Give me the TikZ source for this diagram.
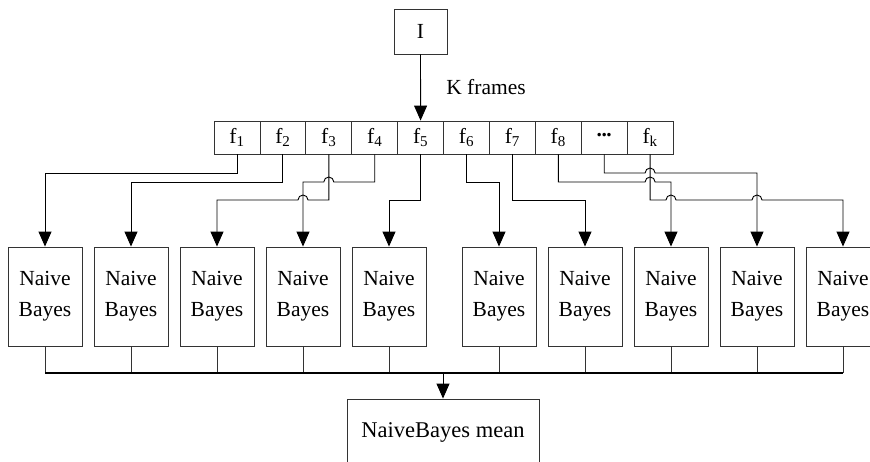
\documentclass[tikz,border=0pt]{standalone}
\usepackage{fontspec}
\setmainfont{Liberation Serif}
\usetikzlibrary{arrows.meta}

\tikzset{
  box/.style={draw=black!80, line width=0.9pt, inner sep=0pt, align=center},
  frame/.style={box, minimum width=45.9pt, minimum height=33pt},
  nbbox/.style={box, minimum width=74pt, minimum height=99pt},
  arr/.style={line width=0.9pt, -{Triangle[width=13pt,length=15pt]}},
  link/.style={draw=black!80, line width=0.9pt}
}
\newcommand{\framedots}{\raisebox{0.22em}{\textbf{.\kern-0.02em.\kern-0.02em.}}}

\begin{document}
\begin{tikzpicture}[x=1pt,y=-1pt,font=\fontsize{21.5}{31}\selectfont]
\useasboundingbox (0,0) rectangle (870,461);
\clip (0,0) rectangle (870,461);

% input and frames
\node [box, minimum width=53pt, minimum height=45pt] (I) at (420.5,31.5) {I};
\foreach \i/\lab in {1/f\textsubscript{1},2/f\textsubscript{2},3/f\textsubscript{3},4/f\textsubscript{4},5/f\textsubscript{5},6/f\textsubscript{6},7/f\textsubscript{7},8/f\textsubscript{8},9/\framedots,10/f\textsubscript{k}}
  \node [frame] (f\i) at ({237+45.9*(\i-1)},137.5) {\lab};
\draw [arr] (I) -- (f5) node [midway,right=22pt] {K frames};

% classifiers
\foreach \i in {1,...,5}
  \node [nbbox] (nb\i) at ({45+86*(\i-1)},296.5) {Naive\\Bayes};
\foreach \i in {6,...,10}
  \node [nbbox] (nb\i) at ({499+86*(\i-6)},296.5) {Naive\\Bayes};
\node [box, minimum width=192pt, minimum height=67pt, font=\fontsize{22.5}{31}\selectfont] (mean) at (443,432.5) {NaiveBayes mean};

% frames to classifiers
\draw [arr] (f1.south) -- (f1.south |- 0,173) -| (nb1.north);
\draw [arr] (f2.south) -- (f2.south |- 0,182) -| (nb2.north);
\draw [arr] (f3.south) -- (f3.south |- 0,200) -- ([xshift=5pt]nb4.north |- 0,200)
  arc [start angle=0,end angle=180,radius=5pt] -| (nb3.north);
\draw [arr] (f4.south) -- (f4.south |- 0,182) -- ([xshift=5pt]f3.south |- 0,182)
  arc [start angle=0,end angle=180,radius=5pt] -| (nb4.north);
\draw [arr] (f5.south) -- (f5.south |- 0,200) -| (nb5.north);
\draw [arr] (f6.south) -- (f6.south |- 0,182) -| (nb6.north);
\draw [arr] (f7.south) -- (f7.south |- 0,200) -| (nb7.north);
\draw [arr] (f8.south) -- (f8.south |- 0,182) -- ([xshift=-5pt]f10.south |- 0,182)
  arc [start angle=180,end angle=0,radius=5pt] -| (nb8.north);
\draw [arr] (f9.south) -- (f9.south |- 0,173) -- ([xshift=-5pt]f10.south |- 0,173)
  arc [start angle=180,end angle=0,radius=5pt] -| (nb9.north);
\draw [arr] (f10.south) -- (f10.south |- 0,200) -- ([xshift=-5pt]nb8.north |- 0,200)
  arc [start angle=180,end angle=0,radius=5pt] -- ([xshift=-5pt]nb9.north |- 0,200)
  arc [start angle=180,end angle=0,radius=5pt] -| (nb10.north);

% classifiers to mean
\coordinate (bus) at (0,373);
\foreach \i in {1,...,10}
  \draw [link] (nb\i.south) -- (nb\i.south |- bus);
\draw [line width=1.8pt] (nb1.south |- bus) -- (nb10.south |- bus);
\draw [arr] (mean.north |- bus) -- (mean.north);
\end{tikzpicture}
\end{document}
